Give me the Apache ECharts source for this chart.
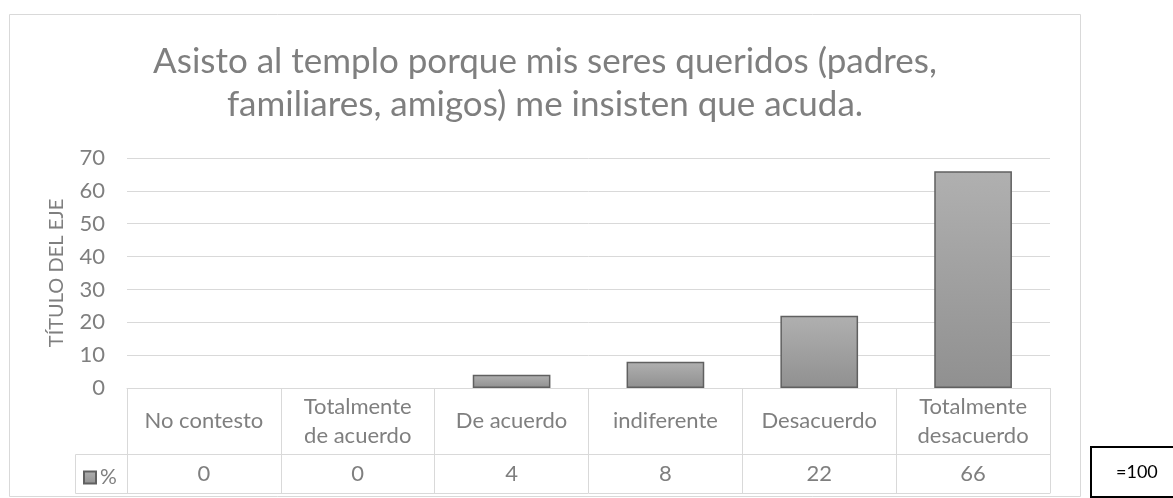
<!DOCTYPE html>
<html lang="es">
<head>
  <meta charset="utf-8">
  <title>Asisto al templo</title>
  <script src="https://cdn.jsdelivr.net/npm/echarts@6/dist/echarts.min.js"></script>
  <style>
    html, body { margin: 0; padding: 0; background: #fff; }
    #chart { width: 1173px; height: 498px; }
  </style>
</head>
<body>
<div id="chart"></div>
<script>
  // data
  const categories = ['No contesto', 'Totalmente\nde acuerdo', 'De acuerdo', 'indiferente', 'Desacuerdo', 'Totalmente\ndesacuerdo'];
  const percent = [0, 0, 4, 8, 22, 66];
  const seriesName = '%';
  const yMin = 0, yMax = 70, yStep = 10;
  const titleText = 'Asisto al templo porque mis seres queridos (padres,\nfamiliares, amigos) me insisten que acuda.';
  const axisTitle = 'TÍTULO DEL EJE';
  const totalNote = '=100';

  const grey = '#7f7f7f';
  const lineGrey = '#d9d9d9';
  const font = 'Lato';

  let chart = echarts.init(document.getElementById('chart'));

  let option = {
    animation: false,
    textStyle: { fontFamily: font },
    title: {
      text: titleText,
      left: 540,
      top: 35,
      textAlign: 'center',
      textStyle: { fontFamily: font, fontSize: 35, fontWeight: 'normal', color: grey, lineHeight: 43 }
    },
    legend: {
      data: [seriesName],
      left: 78,
      top: 462,
      icon: 'rect',
      itemWidth: 12,
      itemHeight: 12,
      itemGap: 4,
      textStyle: { fontFamily: font, fontSize: 21, color: grey, padding: [0, 0, 0, -1] }
    },
    grid: { left: 127, right: 123, top: 158, bottom: 110 },
    xAxis: [
      {
        // category row of the data table
        type: 'category',
        data: categories,
        position: 'bottom',
        axisLine: { lineStyle: { color: lineGrey, width: 1 } },
        axisTick: { show: true, interval: 0, length: 105, lineStyle: { color: lineGrey } },
        axisLabel: { interval: 0, margin: 33, verticalAlign: 'middle', fontSize: 22, lineHeight: 29, color: grey, fontFamily: font }
      },
      {
        // value row of the data table
        type: 'category',
        data: percent.map(String),
        position: 'bottom',
        offset: 66,
        axisLine: { lineStyle: { color: lineGrey, width: 1 } },
        axisTick: { show: false },
        axisLabel: { interval: 0, margin: 20, verticalAlign: 'middle', fontSize: 22, color: grey, fontFamily: font }
      },
      {
        type: 'category',
        data: categories,
        position: 'bottom',
        offset: 105,
        axisLine: { lineStyle: { color: lineGrey, width: 1 } },
        axisTick: { show: false },
        axisLabel: { show: false }
      }
    ],
    yAxis: {
      type: 'value',
      min: yMin,
      max: yMax,
      interval: yStep,
      name: axisTitle,
      nameLocation: 'middle',
      nameRotate: 90,
      nameGap: 60,
      nameTextStyle: { fontFamily: font, fontSize: 20, color: grey },
      axisLine: { show: false },
      axisTick: { show: false },
      axisLabel: { margin: 22, fontSize: 22, color: grey, fontFamily: font },
      splitLine: { lineStyle: { color: lineGrey, width: 1 } }
    },
    series: [{
      name: seriesName,
      type: 'bar',
      xAxisIndex: 0,
      // zero-height bars get no outline, as in the original
      data: percent.map(v => v === 0 ? { value: v, itemStyle: { borderWidth: 0 } } : v),
      barWidth: '50.5%',
      itemStyle: {
        color: new echarts.graphic.LinearGradient(0, 0, 0, 1, [
          { offset: 0, color: '#b0b0b0' },
          { offset: 1, color: '#909090' }
        ]),
        borderColor: '#606060',
        borderWidth: 1.5
      }
    }],
    graphic: [
      {
        // chart frame
        type: 'rect',
        shape: { x: 9.5, y: 14.5, width: 1071, height: 482 },
        style: { fill: 'none', stroke: lineGrey, lineWidth: 1 },
        silent: true
      },
      {
        // legend cell of the data table
        type: 'rect',
        shape: { x: 75.5, y: 454.5, width: 52, height: 39 },
        style: { fill: 'none', stroke: lineGrey, lineWidth: 1 },
        silent: true
      },
      {
        // spreadsheet cell to the right of the chart
        type: 'rect',
        shape: { x: 1091, y: 447, width: 100, height: 50 },
        style: { fill: '#fff', stroke: '#000', lineWidth: 2 },
        silent: true
      },
      {
        type: 'text',
        x: 1116,
        y: 472,
        style: { text: totalNote, fontFamily: font, fontSize: 18, fill: '#000', verticalAlign: 'middle' },
        silent: true
      }
    ]
  };

  chart.setOption(option);
</script>
</body>
</html>
